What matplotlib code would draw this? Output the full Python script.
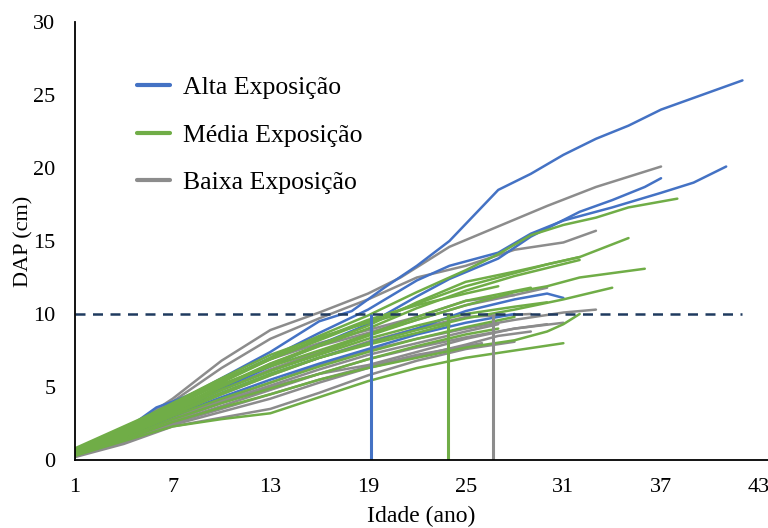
import numpy as np
import matplotlib
matplotlib.use("Agg")
import matplotlib.pyplot as plt

FONT = "Liberation Serif"
FONTSIZE = 16

# DAP (cm) by age (years) for each tree: [idade, dap]
alta = [
    [[1, 0.6], [4, 2.0], [7, 3.8], [10, 5.6], [13, 7.4], [16, 9.5], [18, 10.2], [20, 11.8], [22, 13.3],
     [24, 15.0], [27, 18.5], [29, 19.6], [31, 20.9], [33, 22.0], [35, 22.9], [37, 24.0], [40, 25.2], [42, 26.0]],
    [[1, 0.5], [4, 2.0], [6, 3.6], [7, 4.0], [9, 4.9], [13, 7.0], [16, 8.7], [19, 10.3], [22, 12.3], [24, 13.3],
     [27, 14.2], [29, 15.5], [31, 16.4], [34, 17.3], [37, 18.3], [39, 19.0], [41, 20.1]],
    [[1, 0.4], [4, 1.7], [7, 3.3], [10, 4.9], [13, 6.4], [16, 7.9], [19, 9.3], [22, 11.2], [24, 12.4],
     [27, 13.8], [29, 15.3], [32, 17.0], [34, 17.8], [36, 18.7], [37, 19.3]],
    [[1, 0.5], [4, 1.8], [7, 3.2], [10, 4.6], [13, 5.9], [16, 7.0], [19, 8.0], [22, 9.0], [25, 10.2],
     [28, 11.0], [30, 11.4], [31, 11.1]],
    [[1, 0.4], [4, 1.6], [7, 3.0], [10, 4.3], [13, 5.5], [16, 6.6], [19, 7.6], [22, 8.6], [25, 9.4], [28, 10.0]],
]

media = [
    [[1, 0.6], [4, 2.0], [7, 3.7], [10, 5.4], [13, 7.0], [16, 8.5], [19, 9.9], [22, 11.5], [25, 13.0],
     [27, 14.1], [29, 15.4], [31, 16.1], [33, 16.6], [35, 17.3], [38, 17.9]],
    [[1, 0.5], [4, 1.9], [7, 3.5], [10, 5.1], [13, 6.6], [16, 7.9], [19, 9.2], [22, 10.8], [25, 12.2],
     [28, 12.9], [30, 13.4], [32, 13.9], [35, 15.2]],
    [[1, 0.6], [4, 2.1], [7, 3.8], [10, 5.5], [13, 6.9], [16, 8.2], [19, 9.5], [22, 10.7], [25, 11.9],
     [28, 12.8], [30, 13.4], [32, 13.9]],
    [[1, 0.5], [4, 1.8], [7, 3.4], [10, 5.0], [13, 6.5], [16, 7.8], [19, 9.0], [22, 10.4], [25, 11.6],
     [28, 12.6], [32, 13.7]],
    [[1, 0.5], [4, 1.8], [7, 3.3], [10, 4.8], [13, 6.1], [16, 7.3], [19, 8.5], [22, 9.6], [25, 10.6],
     [28, 11.5], [30, 11.9], [32, 12.5], [36, 13.1]],
    [[1, 0.4], [4, 1.7], [7, 3.1], [10, 4.5], [13, 5.8], [16, 7.0], [19, 8.0], [22, 8.9], [25, 9.7],
     [28, 10.3], [31, 11.0], [34, 11.8]],
    [[1, 0.3], [4, 1.4], [7, 2.6], [10, 3.6], [13, 4.5], [16, 5.5], [19, 6.3], [22, 7.0], [25, 7.7],
     [28, 8.2], [30, 8.8], [31, 9.3], [32, 10.0]],
    [[1, 0.3], [4, 1.3], [7, 2.3], [10, 2.8], [13, 3.2], [16, 4.3], [19, 5.4], [22, 6.3], [25, 7.0],
     [28, 7.5], [31, 8.0]],
    [[1, 0.6], [4, 2.0], [7, 3.6], [10, 5.3], [13, 6.9], [16, 8.3], [19, 9.6], [22, 10.6], [25, 11.4], [27, 11.9]],
    [[1, 0.5], [4, 1.9], [7, 3.4], [10, 4.8], [13, 6.1], [16, 7.2], [19, 8.3], [22, 9.2], [25, 10.0],
     [28, 10.5], [30, 10.8]],
    [[1, 0.4], [4, 1.6], [7, 3.0], [10, 4.2], [13, 5.3], [16, 6.4], [19, 7.4], [22, 8.3], [25, 9.1], [28, 9.8]],
    [[1, 0.4], [4, 1.5], [7, 2.8], [10, 3.9], [13, 4.9], [16, 5.9], [19, 6.9], [22, 7.8], [25, 8.6], [27, 9.0]],
    [[1, 0.7], [4, 2.2], [7, 3.9], [10, 5.6], [13, 7.2], [16, 8.4], [19, 9.4], [21, 10.0]],
    [[1, 0.5], [4, 1.7], [7, 3.2], [10, 4.6], [13, 5.9], [16, 7.0], [19, 7.9], [22, 8.7], [24, 9.3]],
    [[1, 0.8], [4, 2.3], [7, 3.8], [10, 5.2], [13, 6.4], [16, 7.5], [19, 8.6], [22, 9.8], [25, 10.9], [29, 11.8]],
]

baixa = [
    [[1, 0.5], [4, 2.0], [7, 4.2], [10, 6.8], [13, 8.9], [16, 10.1], [19, 11.4], [21, 12.5], [24, 14.6],
     [27, 16.0], [30, 17.4], [33, 18.7], [35, 19.4], [37, 20.1]],
    [[1, 0.5], [4, 2.0], [7, 4.0], [10, 6.3], [13, 8.3], [16, 9.7], [19, 11.0], [22, 12.5], [25, 13.3],
     [28, 14.4], [31, 14.9], [33, 15.7]],
    [[1, 0.4], [4, 1.7], [7, 3.3], [10, 4.8], [13, 6.2], [16, 7.4], [19, 8.6], [22, 9.6], [25, 10.6],
     [28, 11.3], [30, 11.8]],
    [[1, 0.3], [4, 1.4], [7, 2.8], [10, 4.1], [13, 5.3], [16, 6.5], [19, 7.5], [22, 8.3], [25, 9.0],
     [28, 9.6], [31, 10.1], [33, 10.3]],
    [[1, 0.4], [4, 1.5], [7, 2.6], [10, 3.7], [13, 4.8], [16, 5.9], [19, 6.9], [22, 7.7], [25, 8.4],
     [28, 9.0], [31, 9.4]],
    [[1, 0.3], [4, 1.2], [7, 2.4], [10, 3.3], [13, 4.2], [16, 5.3], [19, 6.3], [22, 7.1], [25, 7.9],
     [27, 8.5], [29, 8.8]],
    [[1, 0.2], [4, 1.1], [7, 2.3], [10, 2.9], [13, 3.5], [16, 4.6], [19, 5.8], [22, 6.8], [25, 7.6], [28, 8.1]],
    [[1, 0.4], [4, 1.6], [7, 3.1], [10, 4.5], [13, 5.8], [16, 7.0], [19, 8.1], [22, 9.0], [25, 9.8], [29, 10.0]],
    [[1, 0.3], [4, 1.4], [7, 2.9], [10, 4.0], [13, 5.1], [16, 6.2], [19, 7.2], [22, 8.0], [25, 8.8], [27, 9.3]],
    [[1, 0.6], [4, 2.1], [7, 3.7], [10, 5.4], [13, 6.9], [16, 8.0], [19, 8.9], [22, 9.8], [25, 10.9], [28, 11.3]],
    [[1, 0.4], [4, 1.5], [7, 2.7], [10, 3.9], [13, 5.0], [16, 5.9], [19, 6.5], [22, 7.4], [25, 8.3],
     [28, 9.0], [30, 9.3]],
    [[1, 0.5], [4, 1.8], [7, 3.4], [10, 5.0], [13, 6.6], [16, 7.8], [19, 8.7], [21, 9.4]],
    [[1, 0.3], [4, 1.3], [7, 2.5], [10, 3.5], [13, 4.5], [16, 5.5], [19, 6.4], [22, 7.2], [25, 7.8], [26, 8.0]],
]

# age at which each group reaches 10 cm
idade_10cm = {"alta": 19.2, "media": 23.9, "baixa": 26.7}
limite_dap = 10

labels = ["Alta Exposição", "Média Exposição", "Baixa Exposição"]
BLUE, GREEN, GRAY = "#4472C4", "#70AD47", "#8C8C8C"

fig = plt.figure(figsize=(7.68, 5.28), dpi=100)
ax = fig.add_axes([75 / 768, 68 / 528, 693 / 768, 438 / 528])

handles = {}
for group, color, key in [(baixa, GRAY, "baixa"), (alta, BLUE, "alta"), (media, GREEN, "media")]:
    for tree in group:
        arr = np.array(tree)
        ln, = ax.plot(arr[:, 0], arr[:, 1], color=color, lw=1.8, solid_capstyle="round")
    handles[key] = ln

ax.hlines(limite_dap, 1, 42, colors="#1F3A5F", linestyles=(0, (4, 3)), lw=1.8)
for key, color in [("alta", BLUE), ("media", GREEN), ("baixa", GRAY)]:
    ax.vlines(idade_10cm[key], 0, limite_dap, colors=color, lw=2.2)

ax.set_xlim(1, 43.57)
ax.set_ylim(0, 30)
ax.set_xticks(np.arange(1, 44, 6))
ax.set_yticks(np.arange(0, 31, 5))
ax.tick_params(length=0, labelsize=FONTSIZE)
ax.tick_params(axis="x", pad=13)
ax.tick_params(axis="y", pad=14)
for lab in ax.get_xticklabels() + ax.get_yticklabels():
    lab.set_fontfamily(FONT)

for s in ["top", "right"]:
    ax.spines[s].set_visible(False)
for s in ["left", "bottom"]:
    ax.spines[s].set_linewidth(1.3)
    ax.spines[s].set_color("black")

ax.set_xlabel("Idade (ano)", fontsize=17, fontfamily=FONT, labelpad=6)
ax.set_ylabel("DAP (cm)", fontsize=FONTSIZE, fontfamily=FONT, labelpad=0)

leg = ax.legend([handles["alta"], handles["media"], handles["baixa"]], labels,
                loc="upper left", bbox_to_anchor=(0.0895, 0.877), frameon=False,
                borderpad=0, borderaxespad=0,
                prop={"family": FONT, "size": 18.5}, handlelength=1.3,
                handletextpad=0.47, labelspacing=0.96)
for h in leg.get_lines():
    h.set_linewidth(3)

fig.savefig("out.png", dpi=100)
